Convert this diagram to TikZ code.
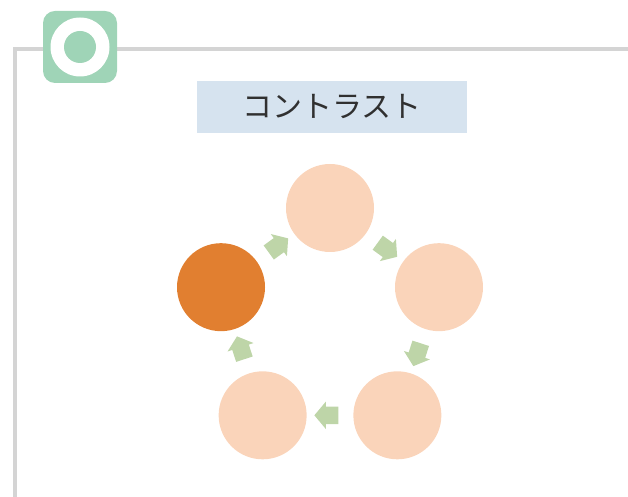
\documentclass[tikz,border=0pt]{standalone}
\usepackage{fontspec}
\newfontfamily\jpfont{Noto Sans CJK JP}
\usetikzlibrary{shapes.arrows, calc}

\definecolor{framegray}{HTML}{D4D4D4}
\definecolor{badgegreen}{HTML}{9FD4B7}
\definecolor{titleblue}{HTML}{D6E3EF}
\definecolor{textgray}{HTML}{303030}
\definecolor{peach}{HTML}{FAD4BA}
\definecolor{darkorange}{HTML}{E17F30}
\definecolor{arrowgreen}{HTML}{BED5A8}

\tikzset{
	badge/.style = {fill = badgegreen, rounded corners = 12pt, minimum width = 74pt, minimum height = 72pt, inner sep = 0pt},
	titlebox/.style = {fill = titleblue, minimum width = 270pt, minimum height = 52pt, inner sep = 0pt, text = textgray, font = \jpfont\fontsize{30}{30}\selectfont},
	stepcircle/.style = {circle, minimum size = 88pt, inner sep = 0pt},
	cyclearrow/.style = {single arrow, fill = arrowgreen, minimum height = 24pt, minimum width = 27pt, single arrow head extend = 5pt, single arrow tip angle = 100, inner xsep = 0pt, inner ysep = 8.5pt}
}

\begin{document}
\begin{tikzpicture}[x = 1pt, y = 1pt]

	% Definitions

	\def\R{114.6}		% Radius of the cycle

	\useasboundingbox (0, 0) rectangle (628, 497);

	% Frame

	\draw [framegray, line width = 4pt] (15, 0) -- (15, 447.5) -- (630, 447.5);

	% Badge

	\node [badge] (badge) at (80, 450) {};
	\fill [white] (badge.center) circle (29.5);
	\fill [badgegreen] (badge.center) circle (16);

	% Title

	\node [titlebox] (title) at (332, 390) {コントラスト};

	% Cycle of circles

	\coordinate (centre) at (330, 174.4);

	\foreach \i/\a/\c in {1/90/peach, 2/18/peach, 3/-54/peach, 4/-126/peach, 5/162/darkorange}
		\node [stepcircle, fill = \c] (c\i) at ($(centre) + (\a:\R)$) {};

	% Arrows between circles

	\foreach \i/\j/\a in {1/2/-36, 2/3/-108, 3/4/180, 4/5/108, 5/1/36}
		\node [cyclearrow, rotate = \a] (a\i) at ($(c\i)!0.5!(c\j)$) {};

\end{tikzpicture}
\end{document}
